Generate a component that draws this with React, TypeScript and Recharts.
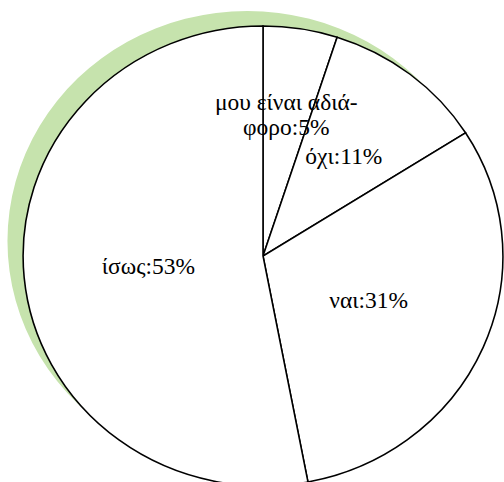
import { Cell, Pie, PieChart } from "recharts";

const categories = ["μου είναι αδιάφορο", "όχι", "ναι", "ίσως"];
const values = [5, 11, 31, 53];

const data = categories.map((name, i) => ({ name, value: values[i] }));
const shadowData = [{ name: "shadow", value: 1 }];

const CX = 263;
const CY = 256;
const R = 230;
const RADIAN = Math.PI / 180;
const FONT = "Liberation Serif, DejaVu Serif, Times New Roman, serif";

// long labels get wrapped with a hyphen, like the office chart does
function labelLines(name: string, value: number) {
  const text = `${name}:${value}%`;
  if (text.length <= 16) return [text];
  return [text.slice(0, 14) + "-", text.slice(14)];
}

function renderLabel(props: any) {
  const { cx, cy, midAngle, outerRadius, index, value, name } = props;
  const factor = value < 8 ? 0.62 : value < 20 ? 0.55 : 0.48;
  const r = outerRadius * factor;
  const x = cx + r * Math.cos(-midAngle * RADIAN);
  const y = cy + r * Math.sin(-midAngle * RADIAN);
  const lines = labelLines(name, value);
  const lh = 25;
  const y0 = y - ((lines.length - 1) * lh) / 2;
  return (
    <text
      key={`lbl-${index}`}
      x={x}
      y={y0}
      textAnchor="middle"
      dominantBaseline="central"
      fill="#000"
      fontFamily={FONT}
      fontSize={22.5}
    >
      {lines.map((l, i) => (
        <tspan key={i} x={x} dy={i === 0 ? 0 : lh}>
          {l}
        </tspan>
      ))}
    </text>
  );
}

export default function App() {
  return (
    <div
      style={{
        position: "absolute",
        left: 0,
        top: 0,
        width: 504,
        height: 482,
        overflow: "hidden",
        background: "#fff",
        fontFamily: FONT,
      }}
    >
      <div style={{ transform: "scaleX(1.043)", transformOrigin: `${CX}px ${CY}px` }}>
        <PieChart width={504} height={482} margin={{ top: 0, right: 0, bottom: 0, left: 0 }}>
          {/* soft green drop shadow behind the pie */}
          <Pie
            data={shadowData}
            dataKey="value"
            cx={CX - 15}
            cy={CY - 15}
            outerRadius={R}
            startAngle={90}
            endAngle={-270}
            stroke="none"
            fill="#c6e3ad"
            isAnimationActive={false}
          />
          <Pie
            data={data}
            dataKey="value"
            nameKey="name"
            cx={CX}
            cy={CY}
            outerRadius={R}
            startAngle={90}
            endAngle={-270}
            stroke="#000"
            strokeWidth={1.5}
            label={renderLabel}
            labelLine={false}
            isAnimationActive={false}
          >
            {data.map((d) => (
              <Cell key={d.name} fill="#fff" />
            ))}
          </Pie>
        </PieChart>
      </div>
    </div>
  );
}
